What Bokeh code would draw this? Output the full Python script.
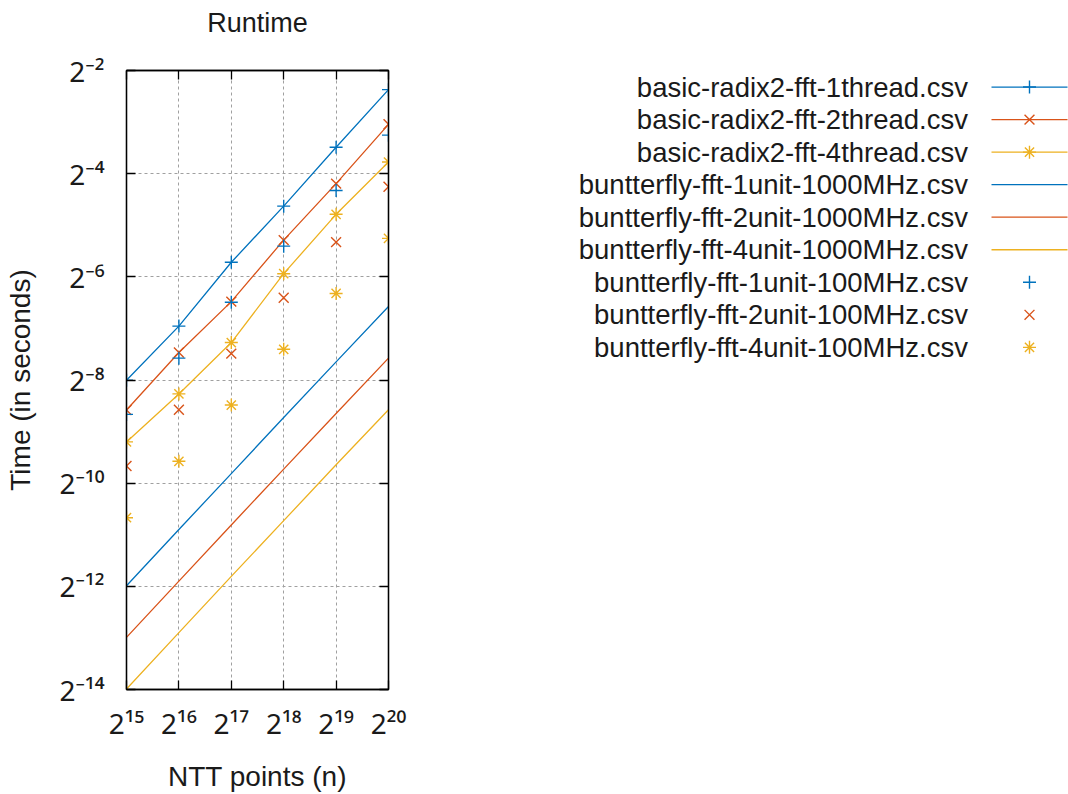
from bokeh.plotting import figure
from bokeh.models import Range1d, FixedTicker, LogAxis
from bokeh.layouts import row
from bokeh.embed import file_html
from bokeh.resources import INLINE
from bokeh.core.properties import value

# ---------------- data ----------------
n_points = [32768, 65536, 131072, 262144, 524288, 1048576]
x_ticks = [32768, 65536, 131072, 262144, 524288, 1048576]
x_tick_labels = ["2¹⁵", "2¹⁶", "2¹⁷", "2¹⁸", "2¹⁹", "2²⁰"]
y_ticks = [2.0 ** -2, 2.0 ** -4, 2.0 ** -6, 2.0 ** -8, 2.0 ** -10, 2.0 ** -12, 2.0 ** -14]
y_tick_labels = ["2⁻²", "2⁻⁴", "2⁻⁶", "2⁻⁸", "2⁻¹⁰", "2⁻¹²", "2⁻¹⁴"]

radix2_1thread = [0.00389, 0.00806, 0.0190, 0.0404, 0.0892, 0.1933]
radix2_2thread = [0.00261, 0.00565, 0.0112, 0.0256, 0.0547, 0.1213]
radix2_4thread = [0.00170, 0.00324, 0.00646, 0.0163, 0.0362, 0.0731]
bfly_1unit_1000 = [0.000246, 0.000524, 0.00111, 0.00236, 0.00498, 0.01049]
bfly_2unit_1000 = [0.000123, 0.000262, 0.000557, 0.00118, 0.00249, 0.00524]
bfly_4unit_1000 = [0.0000614, 0.000131, 0.000279, 0.000590, 0.00125, 0.00262]
bfly_1unit_100 = [0.00246, 0.00524, 0.0111, 0.0236, 0.0498, 0.1049]
bfly_2unit_100 = [0.00123, 0.00262, 0.00557, 0.0118, 0.0249, 0.0524]
bfly_4unit_100 = [0.000614, 0.00131, 0.00279, 0.00590, 0.0125, 0.0262]

labels = [
    "basic-radix2-fft-1thread.csv",
    "basic-radix2-fft-2thread.csv",
    "basic-radix2-fft-4thread.csv",
    "buntterfly-fft-1unit-1000MHz.csv",
    "buntterfly-fft-2unit-1000MHz.csv",
    "buntterfly-fft-4unit-1000MHz.csv",
    "buntterfly-fft-1unit-100MHz.csv",
    "buntterfly-fft-2unit-100MHz.csv",
    "buntterfly-fft-4unit-100MHz.csv",
]

BLUE, ORANGE, YELLOW = "#0072bd", "#d95319", "#edb120"
FONT = "Liberation Sans"
TICK_FONT = "Noto Sans"
TXT = "#1a1a1a"

series = [
    (radix2_1thread, BLUE, True, "cross"),
    (radix2_2thread, ORANGE, True, "x"),
    (radix2_4thread, YELLOW, True, "asterisk"),
    (bfly_1unit_1000, BLUE, True, None),
    (bfly_2unit_1000, ORANGE, True, None),
    (bfly_4unit_1000, YELLOW, True, None),
    (bfly_1unit_100, BLUE, False, "cross"),
    (bfly_2unit_100, ORANGE, False, "x"),
    (bfly_4unit_100, YELLOW, False, "asterisk"),
]
marker_size = {"cross": 13, "x": 14, "asterisk": 13}

# ---------------- main plot ----------------
W1, H = 440, 794
FL, FT, FW, FH = 126, 70, 262, 624
p = figure(width=W1, height=H, x_axis_type="log", y_axis_type="log",
           x_range=Range1d(2 ** 15, 2 ** 20), y_range=Range1d(2 ** -14, 2 ** -2),
           output_backend="svg", toolbar_location=None, title=None,
           min_border_left=FL, min_border_right=W1 - FL - FW,
           min_border_top=FT, min_border_bottom=H - FT - FH)
p.background_fill_color = "white"
p.border_fill_color = "white"
p.outline_line_color = "black"
p.outline_line_width = 1.3


def style_axis(ax, ticks, tick_labels=None):
    ax.ticker = FixedTicker(ticks=ticks, minor_ticks=[])
    if tick_labels is None:
        ax.major_label_overrides = {t: "" for t in ticks}
        ax.major_label_text_font_size = "1px"
    else:
        ax.major_label_overrides = dict(zip(ticks, tick_labels))
        ax.major_label_text_font_size = "28px"
    ax.major_tick_in = 9
    ax.major_tick_out = 0
    ax.minor_tick_line_color = None
    ax.major_tick_line_color = "black"
    ax.major_tick_line_width = 1.3
    ax.axis_line_color = "black"
    ax.axis_line_width = 1.3
    ax.major_label_text_font = TICK_FONT
    ax.major_label_text_color = TXT
    ax.axis_label_text_font = FONT
    ax.axis_label_text_font_size = "28px"
    ax.axis_label_text_font_style = "normal"
    ax.axis_label_text_color = TXT


style_axis(p.xaxis[0], x_ticks, x_tick_labels)
style_axis(p.yaxis[0], y_ticks, y_tick_labels)
p.xaxis[0].major_label_standoff = 14
p.yaxis[0].major_label_standoff = 22
p.xaxis[0].axis_label = "NTT points (n)"
p.yaxis[0].axis_label = "Time (in seconds)"
p.xaxis[0].axis_label_standoff = 16
p.yaxis[0].axis_label_standoff = 20

ax_r = LogAxis()
style_axis(ax_r, y_ticks)
p.add_layout(ax_r, "right")

# top mirror axis; its axis label carries the chart title
ax_t = LogAxis()
style_axis(ax_t, x_ticks)
ax_t.major_label_standoff = 0
ax_t.axis_label = "Runtime"
ax_t.axis_label_text_font_size = "27px"
ax_t.axis_label_standoff = 33
p.add_layout(ax_t, "above")

p.xgrid.ticker = FixedTicker(ticks=x_ticks, minor_ticks=[])
p.ygrid.ticker = FixedTicker(ticks=y_ticks, minor_ticks=[])
for g in (p.xgrid[0], p.ygrid[0]):
    g.grid_line_color = "#a0a0a0"
    g.grid_line_dash = "3 3"
    g.grid_line_width = 1

for vals, col, has_line, mk in series:
    if has_line:
        p.line(n_points, vals, line_color=col, line_width=1.3)
    if mk:
        p.scatter(n_points, vals, marker=mk, size=marker_size[mk],
                  line_color=col, fill_color=None, line_width=1.4)

# ---------------- legend panel (coordinates = page pixels) ----------------
W2 = 1068 - W1
lg = figure(width=W2, height=H, x_range=Range1d(W1, 1068), y_range=Range1d(FT + FH, FT),
            output_backend="svg", toolbar_location=None,
            min_border_left=0, min_border_right=0,
            min_border_top=FT, min_border_bottom=H - FT - FH,
            x_axis_location=None, y_axis_location=None)
lg.grid.visible = False
lg.outline_line_color = None
lg.background_fill_color = "white"
lg.border_fill_color = "white"

row_y0, row_dy = 86.7, 32.8
rows = [row_y0 + i * row_dy for i in range(len(labels))]
lg.text(x=[967.5] * len(labels), y=rows, text=labels,
        text_align="right", text_baseline="middle",
        text_font=value(FONT), text_font_size="27.5px", text_color=TXT)
for (vals, col, has_line, mk), ry in zip(series, rows):
    if has_line:
        lg.segment(x0=[991], y0=[ry], x1=[1067], y1=[ry], line_color=col, line_width=1.3)
    if mk:
        lg.scatter([1029], [ry], marker=mk, size=marker_size[mk],
                   line_color=col, fill_color=None, line_width=1.4)

layout = row(p, lg)
open("out.html", "w").write(file_html(layout, INLINE))
